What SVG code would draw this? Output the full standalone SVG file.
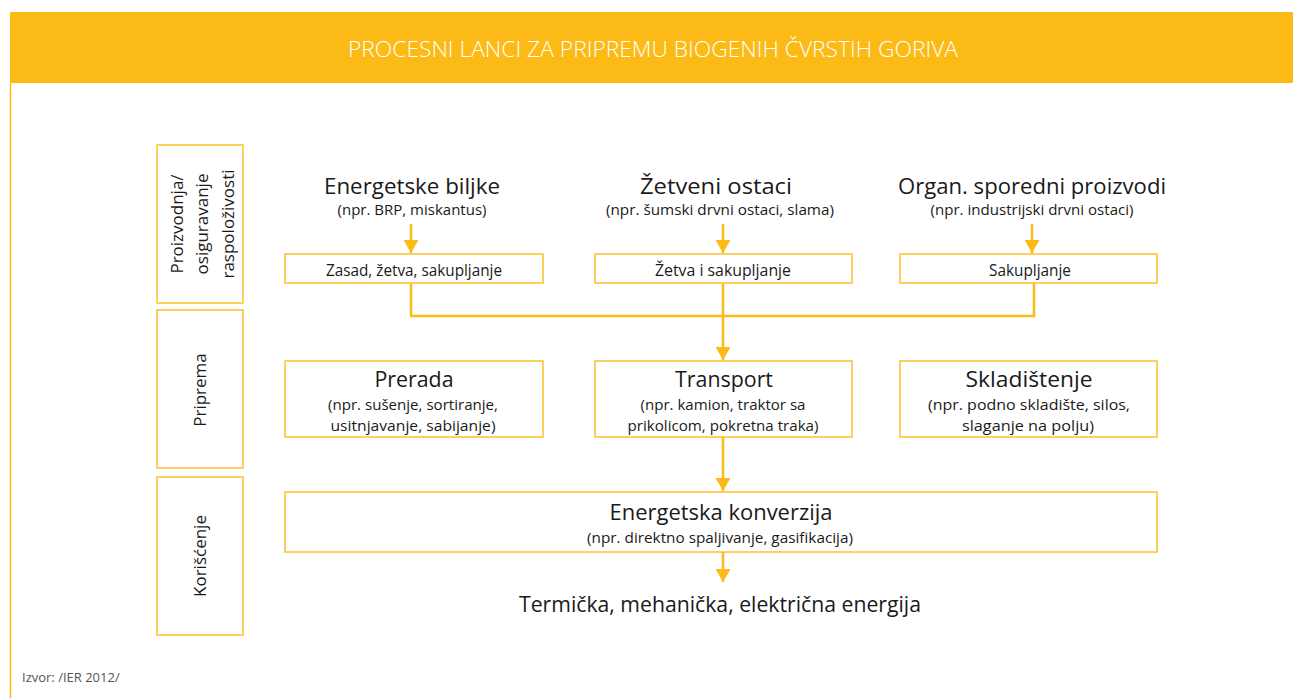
<svg xmlns="http://www.w3.org/2000/svg" width="1293" height="698" viewBox="0 0 1293 698">
<style>
  .box { fill: #ffffff; stroke: #FBC02D; stroke-width: 1.5; }
  .conn { fill: none; stroke: #FBBA16; stroke-width: 2.5; }
  .head { fill: #FBBA16; }
  text { font-family: "Open Sans", "Liberation Sans", sans-serif; fill: #1a1a1a; text-anchor: middle; }
  .t1 { font-size: 22px; }
  .t2 { font-size: 15px; }
  .t3 { font-size: 16px; }
  .side { font-size: 17px; }
</style>
<defs>
  <marker id="arr" markerWidth="13" markerHeight="15" refX="13" refY="7.5" orient="auto" markerUnits="userSpaceOnUse" viewBox="0 0 13 15">
    <path d="M0,0 L13,7.5 L0,15 Z" class="head"/>
  </marker>
</defs>
<rect x="0" y="0" width="1293" height="698" fill="#ffffff"/>
<g id="frame">
  <rect x="10" y="12" width="1283" height="71" fill="#FBBA16"/>
  <line x1="10.5" y1="83" x2="10.5" y2="698" stroke="#FBBA16" stroke-width="1.5"/>
  <text x="653" y="57" style="font-size:22px; fill:#ffffff; font-weight:300" textLength="610" lengthAdjust="spacingAndGlyphs">PROCESNI LANCI ZA PRIPREMU BIOGENIH ČVRSTIH GORIVA</text>
  <text x="22" y="682" style="font-size:13px; fill:#555555; text-anchor:start">Izvor: /IER 2012/</text>
</g>
<g id="side-proizvodnja">
  <rect class="box" x="157" y="145" width="86" height="158"/>
  <text class="side" transform="translate(183,224) rotate(-90)">Proizvodnja/</text>
  <text class="side" transform="translate(208,224) rotate(-90)">osiguravanje</text>
  <text class="side" transform="translate(234,224) rotate(-90)">raspoloživosti</text>
</g>
<g id="side-priprema">
  <rect class="box" x="157" y="310" width="86" height="158"/>
  <text class="side" transform="translate(206,390) rotate(-90)">Priprema</text>
</g>
<g id="side-koriscenje">
  <rect class="box" x="157" y="477" width="86" height="158"/>
  <text class="side" transform="translate(206,556) rotate(-90)">Korišćenje</text>
</g>
<g id="src-energetske">
  <text class="t1" x="412" y="194" textLength="176" lengthAdjust="spacingAndGlyphs">Energetske biljke</text>
  <text class="t2" x="412" y="215" textLength="149" lengthAdjust="spacingAndGlyphs">(npr. BRP, miskantus)</text>
</g>
<g id="src-zetveni">
  <text class="t1" x="716" y="194" textLength="152" lengthAdjust="spacingAndGlyphs">Žetveni ostaci</text>
  <text class="t2" x="720" y="215" textLength="228" lengthAdjust="spacingAndGlyphs">(npr. šumski drvni ostaci, slama)</text>
</g>
<g id="src-organ">
  <text class="t1" x="1032" y="194" textLength="268" lengthAdjust="spacingAndGlyphs">Organ. sporedni proizvodi</text>
  <text class="t2" x="1032" y="215" textLength="203" lengthAdjust="spacingAndGlyphs">(npr. industrijski drvni ostaci)</text>
</g>
<g id="step-zasad">
  <rect class="box" x="285" y="254" width="258" height="29"/>
  <text class="t3" x="414" y="276" textLength="176" lengthAdjust="spacingAndGlyphs">Zasad, žetva, sakupljanje</text>
</g>
<g id="step-zetva">
  <rect class="box" x="595" y="254" width="257" height="29"/>
  <text class="t3" x="723" y="276" textLength="136" lengthAdjust="spacingAndGlyphs">Žetva i sakupljanje</text>
</g>
<g id="step-sakupljanje">
  <rect class="box" x="900" y="254" width="257" height="29"/>
  <text class="t3" x="1030" y="276" textLength="82" lengthAdjust="spacingAndGlyphs">Sakupljanje</text>
</g>
<g id="prerada">
  <rect class="box" x="285" y="361" width="258" height="76"/>
  <text class="t1" x="414" y="387" textLength="79" lengthAdjust="spacingAndGlyphs">Prerada</text>
  <text class="t2" x="413" y="410" textLength="170" lengthAdjust="spacingAndGlyphs">(npr. sušenje, sortiranje,</text>
  <text class="t2" x="413" y="431" textLength="165" lengthAdjust="spacingAndGlyphs">usitnjavanje, sabijanje)</text>
</g>
<g id="transport">
  <rect class="box" x="595" y="361" width="257" height="76"/>
  <text class="t1" x="724" y="387" textLength="98" lengthAdjust="spacingAndGlyphs">Transport</text>
  <text class="t2" x="723" y="410" textLength="165" lengthAdjust="spacingAndGlyphs">(npr. kamion, traktor sa</text>
  <text class="t2" x="723" y="431" textLength="191" lengthAdjust="spacingAndGlyphs">prikolicom, pokretna traka)</text>
</g>
<g id="skladistenje">
  <rect class="box" x="900" y="361" width="257" height="76"/>
  <text class="t1" x="1029" y="387" textLength="127" lengthAdjust="spacingAndGlyphs">Skladištenje</text>
  <text class="t2" x="1029" y="410" textLength="202" lengthAdjust="spacingAndGlyphs">(npr. podno skladište, silos,</text>
  <text class="t2" x="1028" y="431" textLength="132" lengthAdjust="spacingAndGlyphs">slaganje na polju)</text>
</g>
<g id="konverzija">
  <rect class="box" x="285" y="492" width="872" height="60"/>
  <text class="t1" x="721" y="520" textLength="223" lengthAdjust="spacingAndGlyphs">Energetska konverzija</text>
  <text class="t2" x="720" y="543" textLength="266" lengthAdjust="spacingAndGlyphs">(npr. direktno spaljivanje, gasifikacija)</text>
</g>
<g id="energija">
  <text class="t1" x="720" y="612" textLength="402" lengthAdjust="spacingAndGlyphs">Termička, mehanička, električna energija</text>
</g>
<g id="connectors">
  <line class="conn" x1="411" y1="224" x2="411" y2="253" marker-end="url(#arr)"/>
  <line class="conn" x1="723" y1="224" x2="723" y2="253" marker-end="url(#arr)"/>
  <line class="conn" x1="1032" y1="224" x2="1032" y2="253" marker-end="url(#arr)"/>
  <polyline class="conn" points="411,283 411,316 1034,316 1034,283"/>
  <line class="conn" x1="723" y1="283" x2="723" y2="360" marker-end="url(#arr)"/>
  <line class="conn" x1="723" y1="437" x2="723" y2="491" marker-end="url(#arr)"/>
  <line class="conn" x1="723" y1="552" x2="723" y2="582" marker-end="url(#arr)"/>
</g>
</svg>
